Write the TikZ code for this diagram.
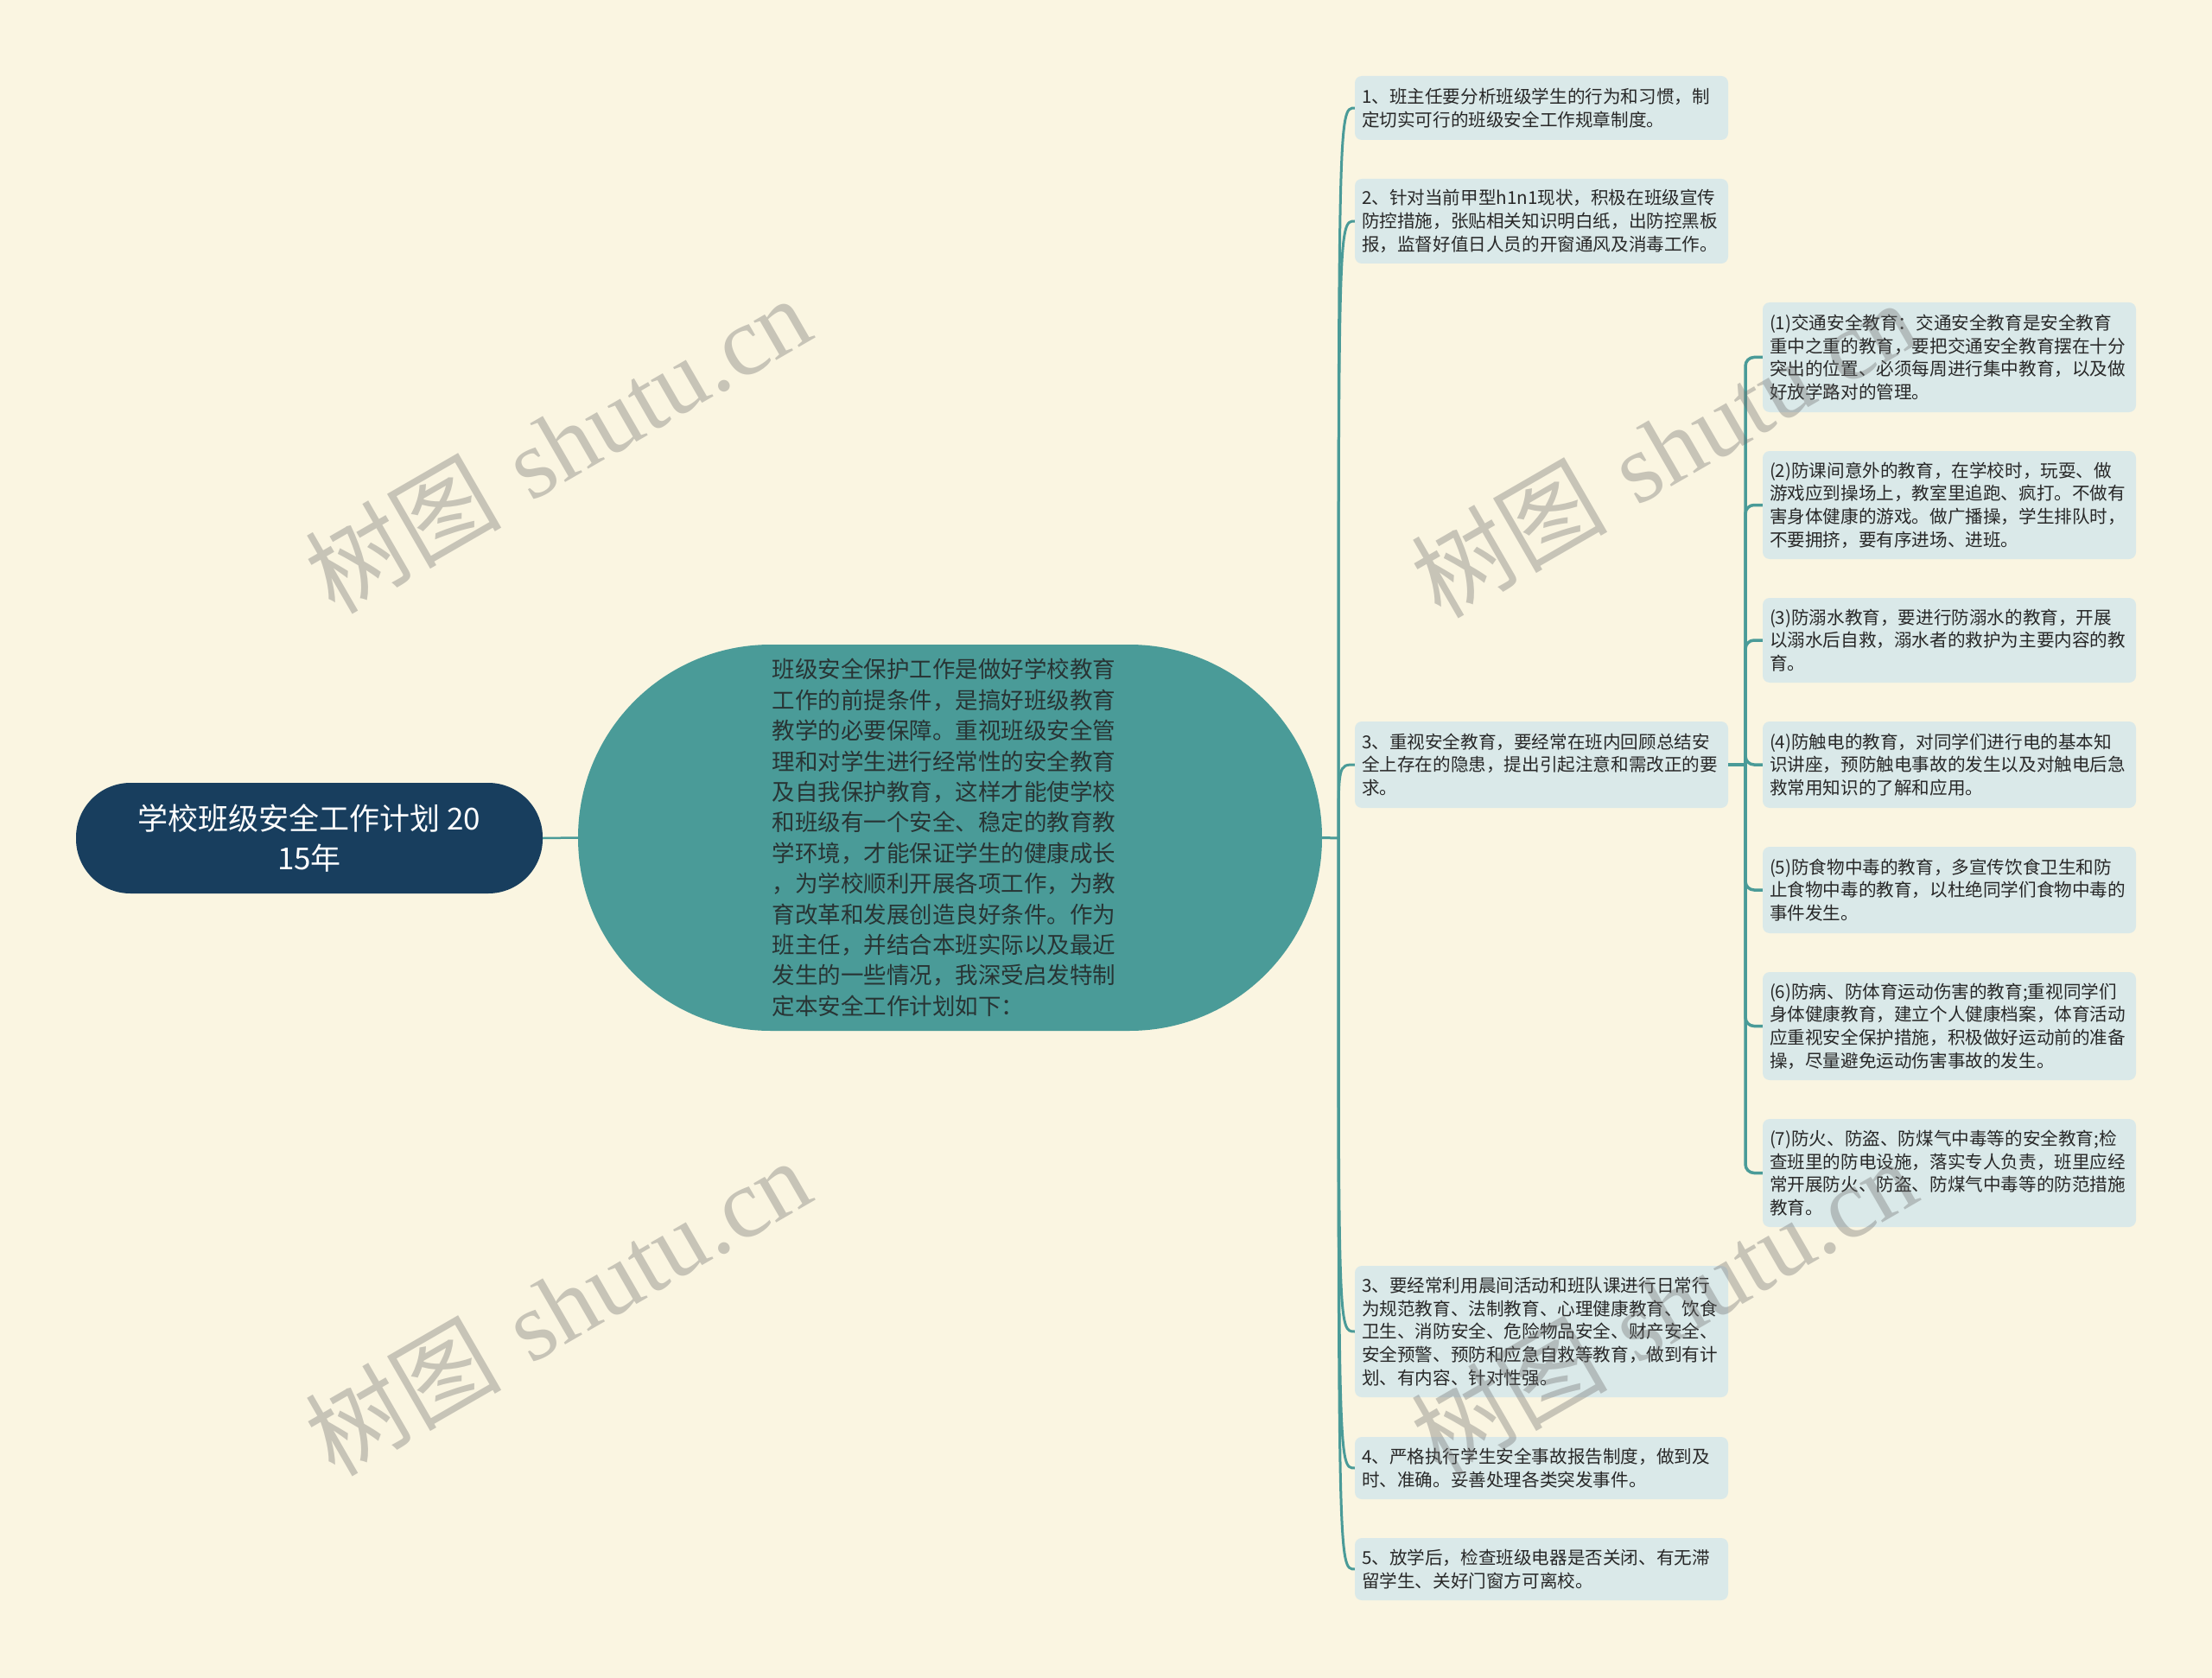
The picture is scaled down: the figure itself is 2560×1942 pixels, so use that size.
\documentclass[tikz,border=0pt]{standalone}
\usepackage{fontspec}
\newfontfamily\cjk{Noto Sans CJK SC}
\newfontfamily\wmserif{Liberation Serif}
\definecolor{bg}{RGB}{250,245,225}
\definecolor{boxfill}{RGB}{218,233,233}
\definecolor{tealc}{RGB}{74,155,152}
\definecolor{rootfill}{RGB}{24,62,94}
\definecolor{txt}{RGB}{40,40,40}
\definecolor{maintxt}{RGB}{40,52,52}
\definecolor{wmc}{RGB}{110,110,110}
\begin{document}
\begin{tikzpicture}[x=1pt,y=-1pt,
  leaf/.style={fill=boxfill, rounded corners=8pt, minimum width=432pt, inner xsep=8pt, inner ysep=0pt,
    text width=416pt, align=left, font=\cjk\fontsize{20.6}{26.7}\selectfont, text=txt, anchor=center},
  rootbox/.style={fill=rootfill, rounded corners=63pt, minimum width=540pt, minimum height=128pt,
    align=center, font=\cjk\fontsize{35}{46}\selectfont, text=white},
  mainbox/.style={fill=tealc, rounded corners=223pt, minimum width=861pt, minimum height=447pt,
    text width=412pt, align=left, font=\cjk\fontsize{26.5}{35.4}\selectfont, text=maintxt},
  conn/.style={draw=tealc, line width=3pt},
  conntwo/.style={draw=tealc, line width=3.5pt, rounded corners=10pt},
  wmark/.style={rotate=30, text=wmc, text opacity=0.36, font=\fontsize{114}{120}\selectfont, inner sep=0pt}
]
\useasboundingbox (0,0) rectangle (2560,1942);
\fill[bg] (0,0) rectangle (2560,1942);

\node[rootbox] (root) at (358,970) {学校班级安全工作计划 20\\15年};

\node[mainbox] (main) at (1099.5,969.5) {班级安全保护工作是做好学校教育\\工作的前提条件，是搞好班级教育\\教学的必要保障。重视班级安全管\\理和对学生进行经常性的安全教育\\及自我保护教育，这样才能使学校\\和班级有一个安全、稳定的教育教\\学环境，才能保证学生的健康成长\\，为学校顺利开展各项工作，为教\\育改革和发展创造良好条件。作为\\班主任，并结合本班实际以及最近\\发生的一些情况，我深受启发特制\\定本安全工作计划如下：};

\node[leaf, minimum height=74pt] (b1) at (1784,125) {1、班主任要分析班级学生的行为和习惯，制\\定切实可行的班级安全工作规章制度。};
\node[leaf, minimum height=98pt] (b2) at (1784,256) {2、针对当前甲型h1n1现状，积极在班级宣传\\防控措施，张贴相关知识明白纸，出防控黑板\\报，监督好值日人员的开窗通风及消毒工作。};
\node[leaf, minimum height=100pt] (b3) at (1784,885) {3、重视安全教育，要经常在班内回顾总结安\\全上存在的隐患，提出引起注意和需改正的要\\求。};
\node[leaf, minimum height=152pt] (b4) at (1784,1541) {3、要经常利用晨间活动和班队课进行日常行\\为规范教育、法制教育、心理健康教育、饮食\\卫生、消防安全、危险物品安全、财产安全、\\安全预警、预防和应急自救等教育，做到有计\\划、有内容、针对性强。};
\node[leaf, minimum height=72pt] (b5) at (1784,1699) {4、严格执行学生安全事故报告制度，做到及\\时、准确。妥善处理各类突发事件。};
\node[leaf, minimum height=72pt] (b6) at (1784,1816) {5、放学后，检查班级电器是否关闭、有无滞\\留学生、关好门窗方可离校。};

\node[leaf, minimum height=127pt] (c1) at (2256,413.5) {(1)交通安全教育：交通安全教育是安全教育\\重中之重的教育，要把交通安全教育摆在十分\\突出的位置、必须每周进行集中教育，以及做\\好放学路对的管理。};
\node[leaf, minimum height=125pt] (c2) at (2256,584.5) {(2)防课间意外的教育，在学校时，玩耍、做\\游戏应到操场上，教室里追跑、疯打。不做有\\害身体健康的游戏。做广播操，学生排队时，\\不要拥挤，要有序进场、进班。};
\node[leaf, minimum height=98pt] (c3) at (2256,741) {(3)防溺水教育，要进行防溺水的教育，开展\\以溺水后自救，溺水者的救护为主要内容的教\\育。};
\node[leaf, minimum height=100pt] (c4) at (2256,885) {(4)防触电的教育，对同学们进行电的基本知\\识讲座，预防触电事故的发生以及对触电后急\\救常用知识的了解和应用。};
\node[leaf, minimum height=100pt] (c5) at (2256,1030) {(5)防食物中毒的教育，多宣传饮食卫生和防\\止食物中毒的教育，以杜绝同学们食物中毒的\\事件发生。};
\node[leaf, minimum height=125pt] (c6) at (2256,1187.5) {(6)防病、防体育运动伤害的教育;重视同学们\\身体健康教育，建立个人健康档案，体育活动\\应重视安全保护措施，积极做好运动前的准备\\操，尽量避免运动伤害事故的发生。};
\node[leaf, minimum height=125pt] (c7) at (2256,1357.5) {(7)防火、防盗、防煤气中毒等的安全教育;检\\查班里的防电设施，落实专人负责，班里应经\\常开展防火、防盗、防煤气中毒等的防范措施\\教育。};

% connectors
\draw[conn, line width=2.5pt] (root.east) -- (main.west);
\coordinate (j2) at (1549,970);
\draw[conn] (main.east) -- (j2);
\foreach \b in {b1,b2,b3,b4,b5,b6}{
  \draw[conn] (j2) .. controls (j2 |- \b.west) and (j2 |- \b.west) .. (\b.west);
}
\coordinate (j3) at (2020,885);
\draw[conntwo] (b3.east) -- (j3);
\foreach \c in {c1,c2,c3,c4,c5,c6,c7}{
  \draw[conntwo] (j3) |- (\c.west);
}

% watermarks
\node[wmark] (wm1) at (645,514) {{\cjk 树图} {\wmserif shutu.cn}};
\node[wmark] (wm2) at (1925,519) {{\cjk 树图} {\wmserif shutu.cn}};
\node[wmark] (wm3) at (645,1512) {{\cjk 树图} {\wmserif shutu.cn}};
\node[wmark] (wm4) at (1925,1512) {{\cjk 树图} {\wmserif shutu.cn}};
\end{tikzpicture}
\end{document}
